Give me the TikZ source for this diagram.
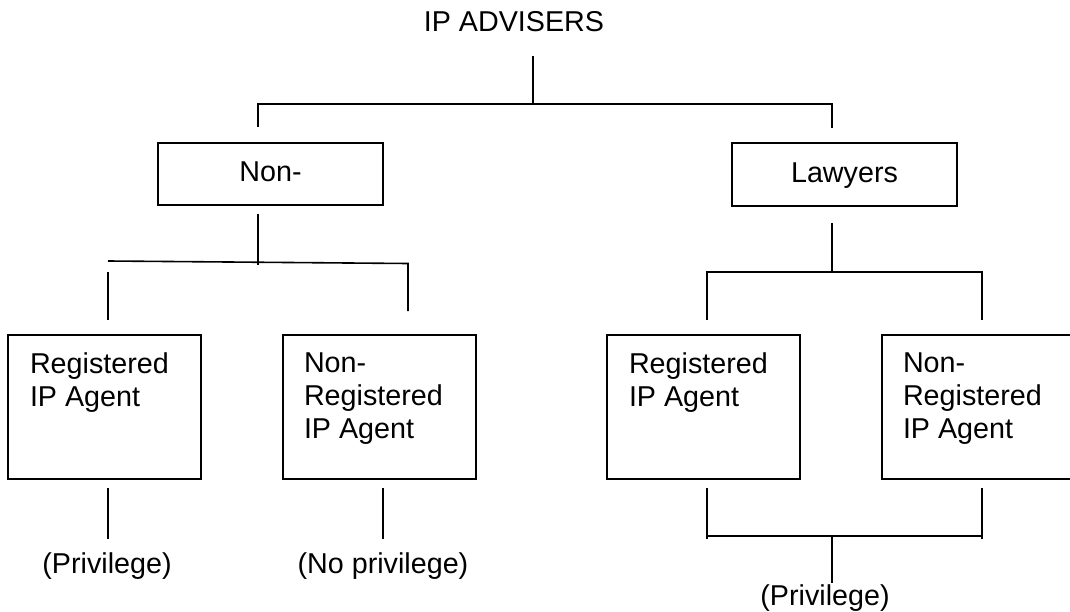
\documentclass[tikz,border=0pt]{standalone}
\usepackage{fontspec}
\setmainfont{Liberation Sans}
\tikzset{
  txt/.style={inner sep=0pt, outer sep=0pt, font=\fontsize{28.7}{33}\selectfont},
  box/.style={draw, line width=2pt, inner sep=0pt, outer sep=0pt, text height=20.5pt, text depth=4.5pt, font=\fontsize{28.7}{33}\selectfont},
  conn/.style={draw, line width=1.6pt}
}
\begin{document}
\begin{tikzpicture}[x=1pt, y=-1pt]
\useasboundingbox (0,0) rectangle (1070,612);
\clip (0,0) rectangle (1070,612);
% title
\node[txt, anchor=base] (title) at (514,32) {IP ADVISERS};
% level 1 boxes
\node[box, minimum width=225pt, minimum height=62pt] (non) at (270.5,174) {Non-};
\node[box, minimum width=225pt, minimum height=63pt] (law) at (844.5,174.5) {Lawyers};
% level 2 boxes
\node[box, minimum width=193pt, minimum height=144pt] (reg1) at (104.5,407) {};
\node[box, minimum width=193pt, minimum height=144pt] (nreg1) at (379.5,407) {};
\node[box, minimum width=193pt, minimum height=144pt] (reg2) at (703.5,407) {};
\node[box, minimum width=228pt, minimum height=144pt] (nreg2) at (996,407) {};
\node[txt, anchor=north west, align=left] (reg1t) at (30,352.5) {Registered\\IP Agent};
\node[txt, anchor=north west, align=left] (nreg1t) at (304,352.5) {Non-\\Registered\\IP Agent};
\node[txt, anchor=north west, align=left] (reg2t) at (629,352.5) {Registered\\IP Agent};
\node[txt, anchor=north west, align=left] (nreg2t) at (903,352.5) {Non-\\Registered\\IP Agent};
% outcome labels
\node[txt, anchor=base] (p1) at (107,573) {(Privilege)};
\node[txt, anchor=base] (p2) at (383,573) {(No privilege)};
\node[txt, anchor=base] (p3) at (825,605) {(Privilege)};
% coordinates
\coordinate (t0) at (533,56);
\coordinate (t1) at (533,104);
\coordinate (hL) at (258,104);
\coordinate (hR) at (832,104);
\coordinate (nonUp) at (258,127);
\coordinate (lawUp) at (832,128);
\coordinate (nonDn) at (258,214);
\coordinate (nonJ) at (258,265);
\coordinate (sL) at (108,261);
\coordinate (sR) at (408,263.5);
\coordinate (nreg1Up) at (408,311);
\coordinate (reg1UpA) at (108,272);
\coordinate (reg1UpB) at (108,320);
\coordinate (lawDn) at (832,223);
\coordinate (lawJ) at (832,272);
\coordinate (lL) at (707,272);
\coordinate (lR) at (982,272);
\coordinate (reg2Up) at (707,320);
\coordinate (nreg2Up) at (982,320);
\coordinate (reg1Dn) at (108,488);
\coordinate (reg1End) at (108,539);
\coordinate (nreg1Dn) at (383,488);
\coordinate (nreg1End) at (383,539);
\coordinate (reg2Dn) at (707,488);
\coordinate (reg2End) at (707,539);
\coordinate (nreg2Dn) at (982,488);
\coordinate (nreg2End) at (982,539);
\coordinate (bL) at (707,536);
\coordinate (bR) at (982,536);
\coordinate (bM) at (832,536);
\coordinate (bEnd) at (832,583);
% connectors
\draw[conn] (t0) -- (t1);
\draw[conn] (nonUp) -- (hL) -- (hR) -- (lawUp);
\draw[conn] (nonDn) -- (nonJ);
\draw[conn] (sL) -- (sR) -- (nreg1Up);
\draw[conn] (reg1UpA) -- (reg1UpB);
\draw[conn] (lawDn) -- (lawJ);
\draw[conn] (reg2Up) -- (lL) -- (lR) -- (nreg2Up);
\draw[conn] (reg1Dn) -- (reg1End);
\draw[conn] (nreg1Dn) -- (nreg1End);
\draw[conn] (reg2Dn) -- (reg2End);
\draw[conn] (nreg2Dn) -- (nreg2End);
\draw[conn] (bL) -- (bR);
\draw[conn] (bM) -- (bEnd);
\end{tikzpicture}
\end{document}
